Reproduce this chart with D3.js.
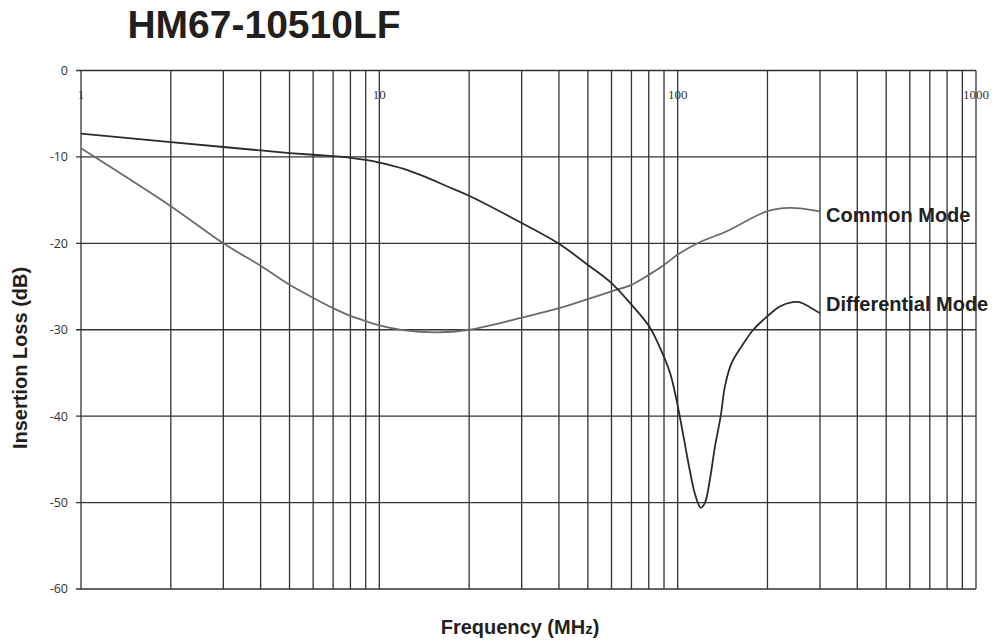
<!DOCTYPE html>
<html>
<head>
    <meta charset="UTF-8">
    <script src="https://d3js.org/d3.v7.min.js"></script>
    <style>
        body { margin: 0; background: #fff; }
    </style>
</head>
<body>
<div id="chart"></div>
<script>
    // values
    const xTicks = [1, 10, 100, 1000];
    const yTicks = [0, -10, -20, -30, -40, -50, -60];

    const commonFreq = [1, 2, 3, 4, 5, 6, 7, 8, 9, 10, 12, 15.6, 20, 30, 40, 50, 60, 70, 80, 90, 100, 118, 146, 199, 237, 300];
    const commonLoss = [-9.0, -15.7, -20.0, -22.6, -24.8, -26.3, -27.5, -28.4, -29.0, -29.5, -30.05, -30.3, -30.0, -28.6, -27.5, -26.45, -25.55, -24.8, -23.65, -22.5, -21.3, -19.9, -18.6, -16.3, -15.9, -16.3];

    const diffFreq = [1, 2, 3, 4, 5, 6, 7, 8, 9, 10, 12, 14, 17, 20, 30, 40, 50, 60, 70, 80.4, 87.3, 94.3, 99.5, 104.4, 110, 114.3, 119.5, 123.5, 128.3, 133.4, 139.4, 144.1, 151.8, 163.9, 179.3, 199, 220, 243, 256, 275, 300];
    const diffLoss = [-7.3, -8.3, -8.85, -9.25, -9.55, -9.75, -9.92, -10.1, -10.35, -10.65, -11.35, -12.2, -13.45, -14.5, -17.65, -20.05, -22.5, -24.6, -27.1, -29.65, -32.1, -35.0, -38.4, -42.2, -46.4, -49.0, -50.6, -50.0, -47.3, -43.5, -40.0, -36.5, -33.8, -31.9, -30.0, -28.5, -27.3, -26.8, -26.8, -27.3, -28.1];

    const width = 994, height = 643;
    const plot = {left: 81, right: 976, top: 70.5, bottom: 589};

    const svg = d3.select("#chart")
        .append("svg")
        .attr("width", width)
        .attr("height", height);

    const x = d3.scaleLog().domain([1, 1000]).range([plot.left, plot.right]);
    const y = d3.scaleLinear().domain([0, -60]).range([plot.top, plot.bottom]);

    const gridColor = "#333";

    // vertical log grid 1..9 per decade
    const vLines = [];
    for (let d = 1; d < 1000; d *= 10) {
        for (let k = 1; k < 10; k++) vLines.push(d * k);
    }
    vLines.push(1000);

    svg.append("g")
        .selectAll("line")
        .data(vLines)
        .join("line")
        .attr("x1", d => x(d)).attr("x2", d => x(d))
        .attr("y1", plot.top).attr("y2", plot.bottom)
        .attr("stroke", gridColor)
        .attr("stroke-width", 1.3);

    // horizontal grid + small ticks to the left
    svg.append("g")
        .selectAll("line")
        .data(yTicks)
        .join("line")
        .attr("x1", plot.left - 5).attr("x2", plot.right)
        .attr("y1", d => y(d)).attr("y2", d => y(d))
        .attr("stroke", gridColor)
        .attr("stroke-width", 1.3);

    // y tick labels
    svg.append("g")
        .selectAll("text")
        .data(yTicks)
        .join("text")
        .attr("x", plot.left - 13)
        .attr("y", d => y(d))
        .attr("dy", "0.35em")
        .attr("text-anchor", "end")
        .style("font-family", "'Open Sans', sans-serif")
        .style("font-size", "12.5px")
        .style("fill", "#333")
        .text(d => d);

    // x tick labels sit inside the plot, under the top line
    svg.append("g")
        .selectAll("text")
        .data(xTicks)
        .join("text")
        .attr("x", d => x(d))
        .attr("y", plot.top + 28)
        .attr("text-anchor", "middle")
        .style("font-family", "'Liberation Serif', serif")
        .style("font-size", "13px")
        .style("fill", "#333")
        .text(d => d);

    const line = d3.line()
        .x(d => x(d[0]))
        .y(d => y(d[1]))
        .curve(d3.curveCatmullRom.alpha(0.5));

    const commonData = commonFreq.map((f, i) => [f, commonLoss[i]]);
    const diffData = diffFreq.map((f, i) => [f, diffLoss[i]]);

    svg.append("path")
        .datum(commonData)
        .attr("d", line)
        .attr("fill", "none")
        .attr("stroke", "#6b6b6b")
        .attr("stroke-width", 1.8);

    svg.append("path")
        .datum(diffData)
        .attr("d", line)
        .attr("fill", "none")
        .attr("stroke", "#2b2b2b")
        .attr("stroke-width", 1.8);

    const labelFont = "Arial, 'Liberation Sans', sans-serif";

    // series labels at end of curves
    svg.append("text")
        .attr("x", x(300) + 6)
        .attr("y", y(commonLoss[commonLoss.length - 1]) + 10.5)
        .style("font-family", labelFont)
        .style("font-weight", "bold")
        .style("font-size", "20px")
        .style("fill", "#222")
        .text("Common Mode");

    svg.append("text")
        .attr("x", x(300) + 6)
        .attr("y", y(diffLoss[diffLoss.length - 1]) - 2.5)
        .style("font-family", labelFont)
        .style("font-weight", "bold")
        .style("font-size", "20px")
        .style("fill", "#222")
        .text("Differential Mode");

    // title
    svg.append("text")
        .attr("x", 264)
        .attr("y", 38)
        .attr("text-anchor", "middle")
        .style("font-family", labelFont)
        .style("font-weight", "bold")
        .style("font-size", "39px")
        .style("fill", "#231f20")
        .text("HM67-10510LF");

    // axis titles
    svg.append("text")
        .attr("transform", "translate(27,358) rotate(-90)")
        .attr("text-anchor", "middle")
        .style("font-family", labelFont)
        .style("font-weight", "bold")
        .style("font-size", "20px")
        .style("fill", "#231f20")
        .text("Insertion Loss (dB)");

    const xt = svg.append("text")
        .attr("x", 520)
        .attr("y", 634)
        .attr("text-anchor", "middle")
        .style("font-family", labelFont)
        .style("font-weight", "bold")
        .style("font-size", "20px")
        .style("fill", "#231f20");
    xt.append("tspan").text("Frequency (MH");
    xt.append("tspan").style("font-size", "15px").text("z");
    xt.append("tspan").text(")");
</script>
</body>
</html>
